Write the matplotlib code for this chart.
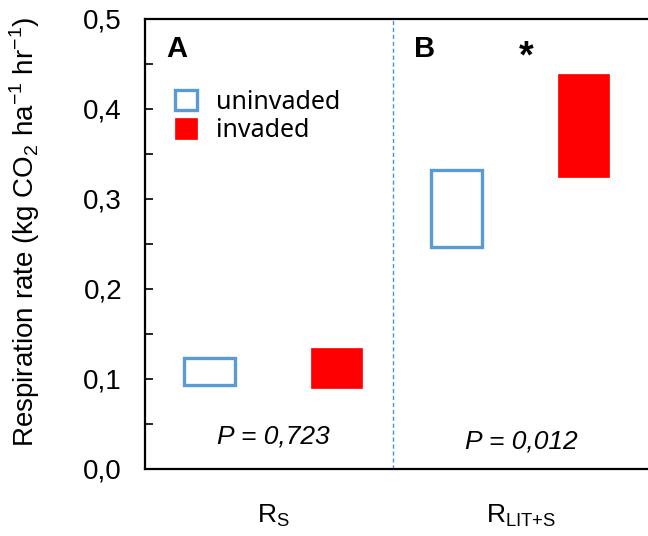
import matplotlib
matplotlib.use("Agg")
import matplotlib.pyplot as plt
from matplotlib.ticker import MultipleLocator, FuncFormatter

# -------------------- data --------------------
groups = ["R$_{\\mathregular{S}}$", "R$_{\\mathregular{LIT{+}S}}$"]
uninv_low = [0.093, 0.247]
uninv_high = [0.123, 0.332]
inv_low = [0.090, 0.325]
inv_high = [0.134, 0.439]
p_values = ["P = 0,723", "P = 0,012"]
panel_labels = ["A", "B"]

BLUE = "#5B9BD5"
RED = "#FF0000"

plt.rcParams["font.family"] = ["Liberation Sans", "DejaVu Sans"]
plt.rcParams["mathtext.fontset"] = "custom"
plt.rcParams["mathtext.rm"] = "Liberation Sans"

fig = plt.figure(figsize=(6.48, 5.36), dpi=100)
ax = fig.add_axes([145 / 648, 67 / 536, 503 / 648, 450 / 536])

# box positions inside each panel (panel i spans x in [i, i+1])
BOX_W = 0.205
uninv_x = [i + 0.259 for i in range(len(groups))]
inv_x = [i + 0.772 for i in range(len(groups))]

ax.bar(uninv_x, [h - l for l, h in zip(uninv_low, uninv_high)], bottom=uninv_low,
       width=BOX_W, facecolor="white", edgecolor=BLUE, linewidth=2.4, zorder=3,
       label="uninvaded")
ax.bar(inv_x, [h - l for l, h in zip(inv_low, inv_high)], bottom=inv_low,
       width=BOX_W, facecolor=RED, edgecolor=RED, linewidth=0.5, zorder=3,
       label="invaded")

# dashed divider between panels
ax.axvline(1.0, color="#4A90E2", linestyle=(0, (3, 2)), linewidth=1.0, zorder=1)

ax.set_xlim(0, 2.031)
ax.set_ylim(0, 0.5)

# axis styling
ax.spines["right"].set_visible(False)
for s in ["left", "top", "bottom"]:
    ax.spines[s].set_linewidth(1.6)
ax.yaxis.set_major_locator(MultipleLocator(0.1))
ax.yaxis.set_minor_locator(MultipleLocator(0.05))
ax.yaxis.set_major_formatter(FuncFormatter(lambda v, _: f"{v:.1f}".replace(".", ",")))
ax.tick_params(axis="y", which="both", direction="in", length=6, width=1.2,
               labelsize=20, pad=16.5)
ax.set_xticks([])

ax.set_ylabel("Respiration rate (kg CO$_{\\mathregular{2}}$ ha$^{\\mathregular{-1}}$ hr$^{\\mathregular{-1}}$)",
              fontsize=20)
ax.yaxis.set_label_coords(-0.205, 0.527)

# category labels below the axis
for i, g in enumerate(groups):
    ax.text(i + 0.52, -0.052, g, ha="center", va="center", fontsize=19)

# panel letters, P values, significance
for i, lab in enumerate(panel_labels):
    ax.text(i + 0.085, 0.467, lab, ha="left", va="center", fontsize=21, fontweight="bold")
for i, p in enumerate(p_values):
    ax.text(i + 0.52, [0.036, 0.030][i], p, ha="center", va="center",
            fontsize=19, style="italic")
ax.text(1.54, 0.457, "*", ha="center", va="center", fontsize=27, fontweight="bold")

# legend
leg = ax.legend(loc="upper left", bbox_to_anchor=(0.014, 0.893), frameon=False,
                prop={"family": "Noto Sans", "size": 18},
                handlelength=0.9, handleheight=0.9, handletextpad=0.75,
                labelspacing=0.15)

fig.savefig("out.png", dpi=100)
